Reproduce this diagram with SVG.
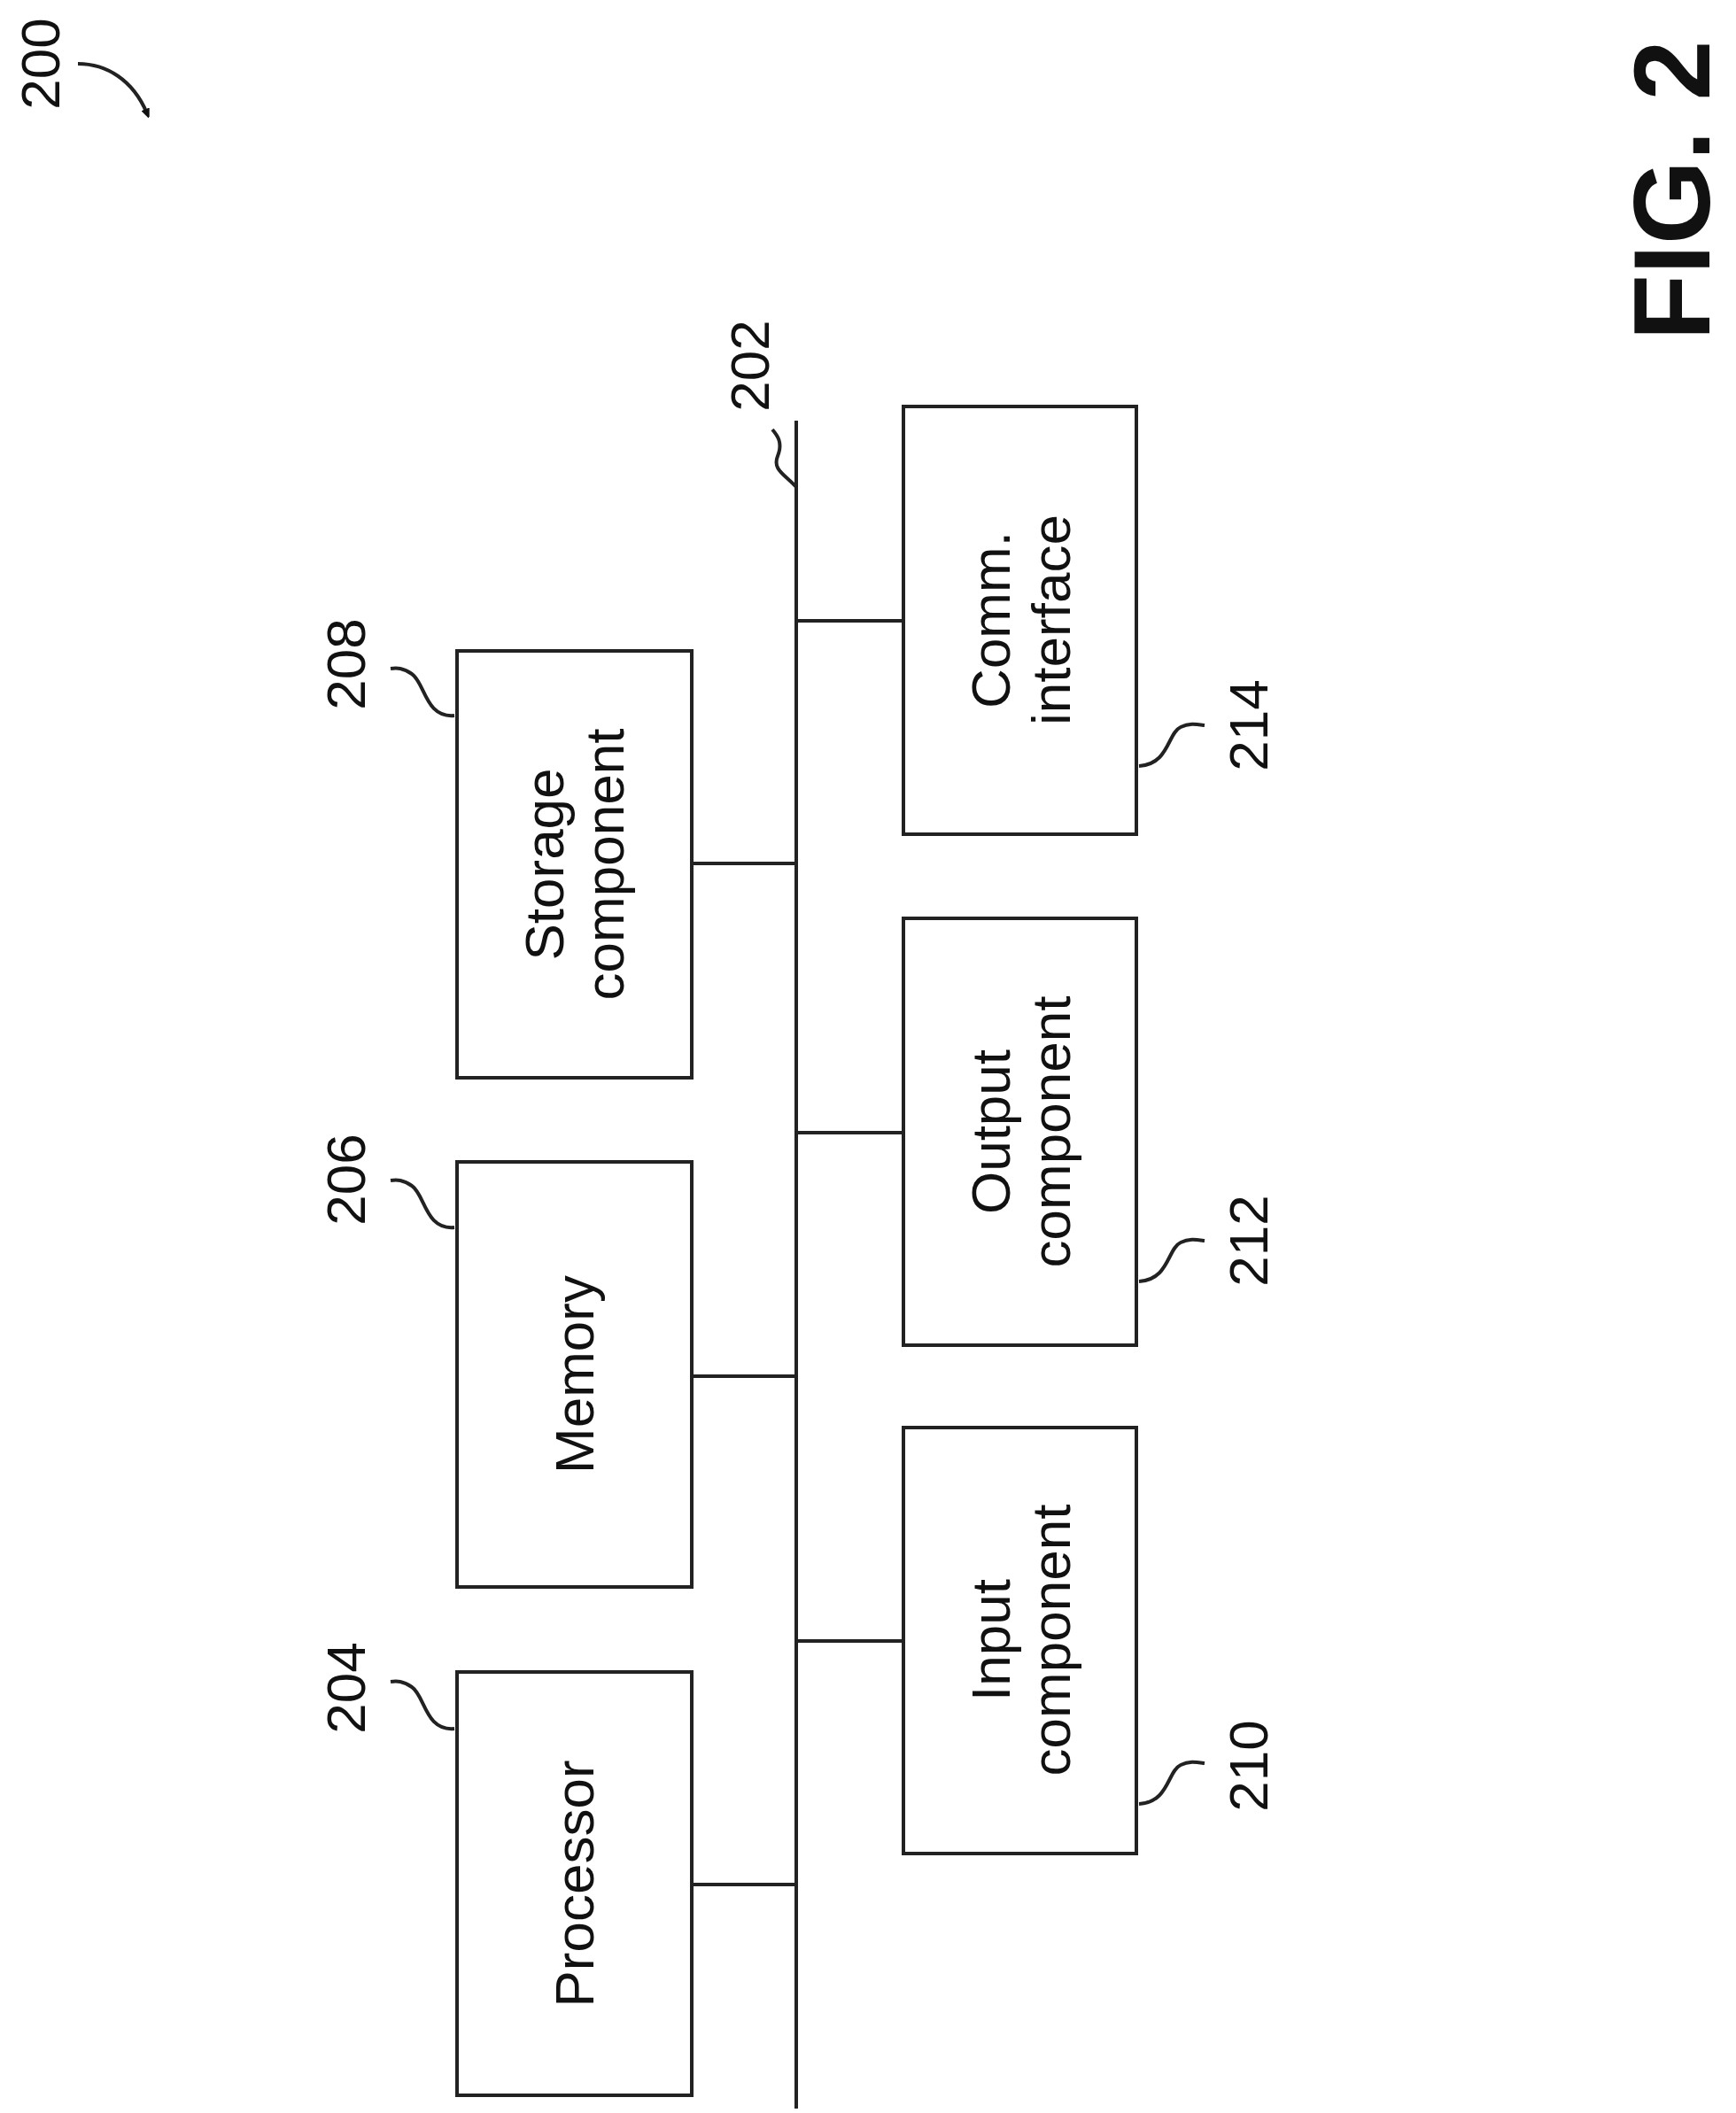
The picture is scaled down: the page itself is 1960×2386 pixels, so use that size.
<svg xmlns="http://www.w3.org/2000/svg" width="1960" height="2386" viewBox="0 0 1960 2386">
<defs><marker id="ah" markerWidth="10" markerHeight="10" refX="5" refY="5" orient="auto" markerUnits="userSpaceOnUse"><path d="M0,0 L24,10 L0,20 Z" transform="scale(0.5)" fill="#111"/></marker></defs>
<style>
.b{fill:#fff;stroke:#222;stroke-width:4}
.l{fill:none;stroke:#222;stroke-width:4}
.t{font-family:"Liberation Sans",Arial,sans-serif;font-size:62px;fill:#111;text-anchor:middle;dominant-baseline:central}
</style>
<rect width="1960" height="2386" fill="#fff"/>
<g id="connectors">
<line class="l" x1="899" y1="475" x2="899" y2="2381"/>
<line class="l" x1="781" y1="2128" x2="899" y2="2128"/>
<line class="l" x1="781" y1="1554" x2="899" y2="1554"/>
<line class="l" x1="781" y1="975" x2="899" y2="975"/>
<line class="l" x1="899" y1="1853" x2="1020" y2="1853"/>
<line class="l" x1="899" y1="1279" x2="1020" y2="1279"/>
<line class="l" x1="899" y1="701" x2="1020" y2="701"/>
</g>
<g id="n204"><rect class="b" x="516" y="1888" width="265" height="478"/><text class="t" transform="translate(648,2127) rotate(-90)">Processor</text></g>
<g id="n206"><rect class="b" x="516" y="1312" width="265" height="480"/><text class="t" transform="translate(648,1552) rotate(-90)">Memory</text></g>
<g id="n208"><rect class="b" x="516" y="735" width="265" height="482"/><text class="t" transform="translate(648,976) rotate(-90)"><tspan x="0" dy="-0.55em">Storage</tspan><tspan x="0" dy="1.1em">component</tspan></text></g>
<g id="n210"><rect class="b" x="1020" y="1612" width="263" height="481"/><text class="t" transform="translate(1152,1852) rotate(-90)"><tspan x="0" dy="-0.55em">Input</tspan><tspan x="0" dy="1.1em">component</tspan></text></g>
<g id="n212"><rect class="b" x="1020" y="1037" width="263" height="482"/><text class="t" transform="translate(1152,1278) rotate(-90)"><tspan x="0" dy="-0.55em">Output</tspan><tspan x="0" dy="1.1em">component</tspan></text></g>
<g id="n214"><rect class="b" x="1020" y="459" width="263" height="483"/><text class="t" transform="translate(1152,700) rotate(-90)"><tspan x="0" dy="-0.55em">Comm.</tspan><tspan x="0" dy="1.1em">interface</tspan></text></g>
<g id="labels">
<path class="l" d="M513,1952 C480,1955 480,1915 465,1905 C455,1898 448,1898 441,1899"/>
<text class="t" transform="translate(390,1906) rotate(-90)">204</text>
<path class="l" d="M513,1386 C480,1389 480,1349 465,1339 C455,1332 448,1332 441,1333"/>
<text class="t" transform="translate(390,1332) rotate(-90)">206</text>
<path class="l" d="M513,808 C480,811 480,771 465,761 C455,754 448,754 441,755"/>
<text class="t" transform="translate(390,750) rotate(-90)">208</text>
<path class="l" d="M1286,2037 C1320,2035 1318,2000 1333,1993 C1343,1988 1352,1990 1360,1991"/>
<text class="t" transform="translate(1409,1994) rotate(-90)">210</text>
<path class="l" d="M1286,1447 C1320,1445 1318,1410 1333,1403 C1343,1398 1352,1400 1360,1401"/>
<text class="t" transform="translate(1409,1401) rotate(-90)">212</text>
<path class="l" d="M1286,865 C1320,863 1318,828 1333,821 C1343,816 1352,818 1360,819"/>
<text class="t" transform="translate(1409,819) rotate(-90)">214</text>
<path class="l" d="M899,550 C885,535 872,530 878,515 C884,500 878,492 872,485"/>
<text class="t" transform="translate(846,413) rotate(-90)">202</text>
<text class="t" transform="translate(45,72) rotate(-90)">200</text>
<path class="l" d="M88,72 C120,72 150,90 166,128" marker-end="url(#ah)"/>
<text class="t" style="font-size:122px;font-weight:bold" transform="translate(1888,215) rotate(-90)">FIG. 2</text>
</g>
</svg>
